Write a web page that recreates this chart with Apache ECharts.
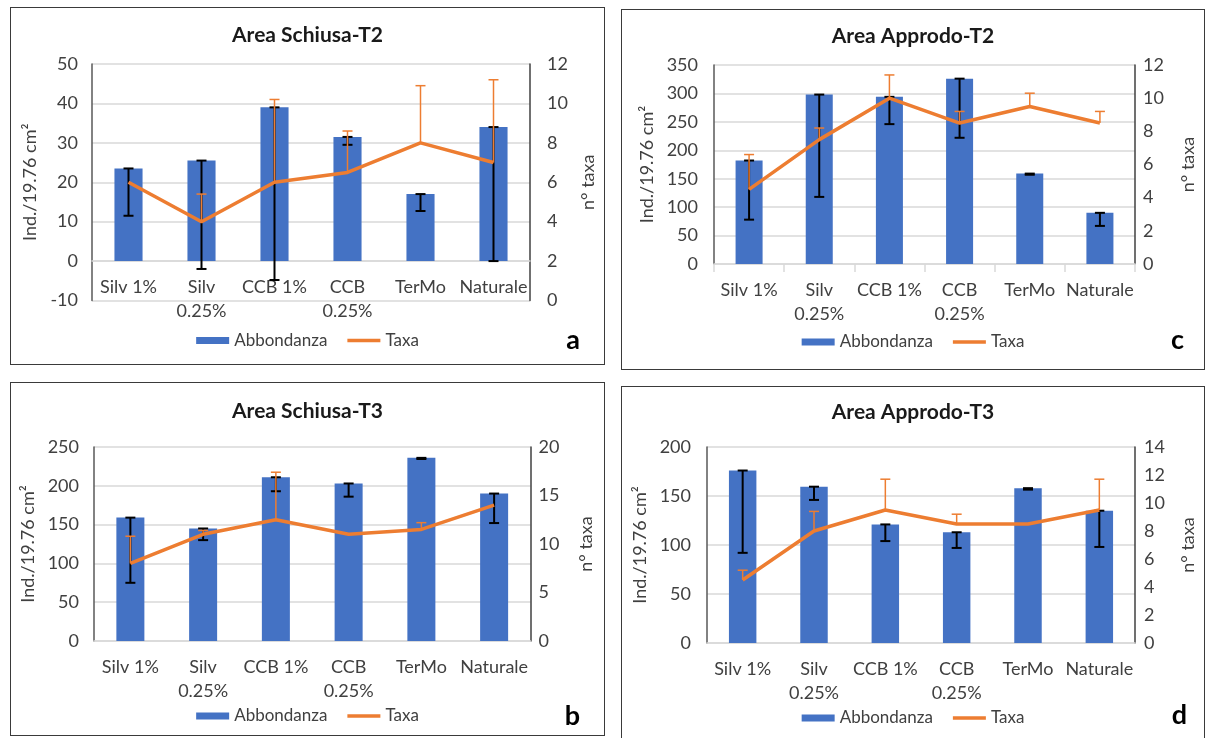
<!DOCTYPE html>
<html>
<head>
<meta charset="utf-8">
<script src="https://cdn.jsdelivr.net/npm/echarts@6/dist/echarts.min.js"></script>
<style>
  html, body { margin:0; padding:0; background:#fff; width:1213px; height:738px; overflow:hidden; }
  .chart { position:absolute; }
  .frame { position:absolute; border:1.5px solid #3a3a3a; box-sizing:border-box; pointer-events:none; }
</style>
</head>
<body>
<div class="chart" id="pa" style="left:10px;top:7px;width:595px;height:358px"></div>
<div class="chart" id="pc" style="left:621px;top:9px;width:584px;height:361px"></div>
<div class="chart" id="pb" style="left:10px;top:382px;width:595px;height:354px"></div>
<div class="chart" id="pd" style="left:621px;top:386px;width:584px;height:360px"></div>
<div class="frame" style="left:10px;top:7px;width:595px;height:358px"></div>
<div class="frame" style="left:621px;top:9px;width:584px;height:361px"></div>
<div class="frame" style="left:10px;top:382px;width:595px;height:354px"></div>
<div class="frame" style="left:621px;top:386px;width:584px;height:360px"></div>
<script>
// ---- data ----
const categories = ['Silv 1%', 'Silv\n0.25%', 'CCB 1%', 'CCB\n0.25%', 'TerMo', 'Naturale'];

// Panel a: Area Schiusa-T2
const abbA      = [23.5, 25.5, 39, 31.5, 17, 34];
const abbLowA   = [11.5, -2, -4.8, 29.5, 12.7, 0];
const taxaA     = [6, 4, 6, 6.5, 8, 7];
const taxaHighA = [6, 5.4, 10.2, 8.6, 10.9, 11.2];
const leftTicksA  = [-10, 50, 10];
const rightTicksA = [0, 12, 2];

// Panel c: Area Approdo-T2
const abbC      = [182, 298, 294, 326, 159, 90];
const abbLowC   = [78, 118, 246, 222, 157, 67];
const taxaC     = [4.5, 7.5, 10, 8.5, 9.5, 8.5];
const taxaHighC = [6.6, 8.2, 11.4, 9.2, 10.3, 9.2];
const leftTicksC  = [0, 350, 50];
const rightTicksC = [0, 12, 2];

// Panel b: Area Schiusa-T3
const abbB      = [159, 145, 211, 203, 236, 190];
const abbLowB   = [75, 130, 193, 186, 234.5, 152];
const taxaB     = [8, 11, 12.5, 11, 11.5, 14];
const taxaHighB = [10.8, 11.4, 17.4, 11, 12.2, 14];
const leftTicksB  = [0, 250, 50];
const rightTicksB = [0, 20, 5];

// Panel d: Area Approdo-T3
const abbD      = [176, 159.5, 121, 113, 158, 135];
const abbLowD   = [92, 146, 104, 97, 156.5, 98];
const taxaD     = [4.5, 8, 9.5, 8.5, 8.5, 9.5];
const taxaHighD = [5.2, 9.4, 11.7, 9.2, 8.5, 11.7];
const leftTicksD  = [0, 200, 50];
const rightTicksD = [0, 14, 2];

const FONT = 'Lato';
const BLUE = '#4472C4';
const ORANGE = '#ED7D31';

function errSeries(name, vals, ends, yIdx, color, width, capTop, capBottom, z) {
  const data = vals.map((v, i) => [i, v, ends[i]]);
  return {
    type: 'custom', name: name, xAxisIndex: 0, yAxisIndex: yIdx, z: z,
    encode: { x: 0, y: [1, 2] },
    data: data,
    renderItem: function (params, api) {
      const i = api.value(0);
      const v = api.value(1), e = api.value(2);
      if (Math.abs(v - e) < 1e-9) return null;
      const p1 = api.coord([i, v]);
      const p2 = api.coord([i, e]);
      const hw = 5;
      const st = { stroke: color, lineWidth: width };
      const children = [
        { type: 'line', shape: { x1: p1[0], y1: p1[1], x2: p2[0], y2: p2[1] }, style: st }
      ];
      if (capBottom) children.push({ type: 'line', shape: { x1: p2[0] - hw, y1: p2[1], x2: p2[0] + hw, y2: p2[1] }, style: st });
      if (capTop) children.push({ type: 'line', shape: { x1: p1[0] - hw, y1: p1[1], x2: p1[0] + hw, y2: p1[1] }, style: st });
      return { type: 'group', children: children };
    }
  };
}

function build(p) {
  return {
    animation: false,
    textStyle: { fontFamily: FONT },
    title: [
      { text: p.title, left: 'center', top: p.titleTop,
        textStyle: { fontSize: 21, fontWeight: 'bold', color: '#1a1a1a', fontFamily: FONT } },
      { text: p.letter, right: p.letterRight, top: p.letterTop,
        textStyle: { fontSize: 27, fontWeight: 'bold', color: '#000', fontFamily: FONT } }
    ],
    legend: {
      data: [
        { name: 'Abbondanza', icon: 'rect' },
        { name: 'Taxa', icon: 'path://M0,0H33V3.3H0Z' }
      ],
      left: 'center', top: p.legendTop,
      itemWidth: 33, itemHeight: 7, itemGap: 20,
      textStyle: { fontSize: 17, color: '#404040', fontFamily: FONT }
    },
    grid: p.grid,
    xAxis: {
      type: 'category', data: categories,
      axisLine: { onZero: true, onZeroAxisIndex: 0, lineStyle: { color: '#d9d9d9', width: 1.5 } },
      axisTick: { show: p.ticks, length: 8, lineStyle: { color: '#d9d9d9', width: 1.5 } },
      axisLabel: { interval: 0, margin: p.xMargin, fontSize: 18, lineHeight: 24, color: '#404040', fontFamily: FONT }
    },
    yAxis: [
      { type: 'value', min: p.left[0], max: p.left[1], interval: p.left[2],
        name: 'Ind./19.76 cm²', nameLocation: 'middle', nameGap: p.lNameGap, nameRotate: 90,
        nameTextStyle: { fontSize: 18, color: '#404040', fontFamily: FONT },
        axisLine: { show: true, onZero: false, lineStyle: { color: '#595959', width: 1.5 } },
        axisTick: { show: false },
        splitLine: { show: true, lineStyle: { color: '#d9d9d9', width: 1.5 } },
        axisLabel: { fontSize: 18, color: '#404040', margin: p.lMargin, fontFamily: FONT } },
      { type: 'value', position: 'right', min: p.right[0], max: p.right[1], interval: p.right[2],
        name: 'n° taxa', nameLocation: 'middle', nameGap: p.rNameGap, nameRotate: 90,
        nameTextStyle: { fontSize: 18, color: '#404040', fontFamily: FONT },
        axisLine: { show: true, onZero: false, lineStyle: { color: '#404040', width: 1.5 } },
        axisTick: { show: false },
        splitLine: { show: false },
        axisLabel: { fontSize: 18, color: '#404040', margin: p.rMargin, fontFamily: FONT } }
    ],
    series: [
      { type: 'bar', name: 'Abbondanza', data: p.abb, yAxisIndex: 0, barWidth: '38.5%',
        itemStyle: { color: BLUE }, z: 2 },
      errSeries('errAbb', p.abb, p.low, 0, '#000', 2, true, true, 3),
      { type: 'line', name: 'Taxa', data: p.taxa, yAxisIndex: 1, symbol: 'none',
        lineStyle: { color: ORANGE, width: 3.5 }, itemStyle: { color: ORANGE }, z: 4 },
      errSeries('errTaxa', p.taxa, p.high, 1, ORANGE, 1.5, false, true, 5)
    ]
  };
}

const panels = [
  { id: 'pa', title: 'Area Schiusa-T2', letter: 'a', abb: abbA, low: abbLowA, taxa: taxaA, high: taxaHighA,
    left: leftTicksA, right: rightTicksA, ticks: false, xMargin: -25.5,
    grid: { left: 82, right: 75, top: 57, bottom: 64.5 },
    titleTop: 13, letterRight: 20, letterTop: 315, legendTop: 320,
    lNameGap: 50, rNameGap: 45, lMargin: 14, rMargin: 17 },
  { id: 'pc', title: 'Area Approdo-T2', letter: 'c', abb: abbC, low: abbLowC, taxa: taxaC, high: taxaHighC,
    left: leftTicksC, right: rightTicksC, ticks: true, xMargin: 14,
    grid: { left: 93, right: 70, top: 56, bottom: 106 },
    titleTop: 12, letterRight: 16, letterTop: 313, legendTop: 319.5,
    lNameGap: 56, rNameGap: 44, lMargin: 16, rMargin: 8 },
  { id: 'pb', title: 'Area Schiusa-T3', letter: 'b', abb: abbB, low: abbLowB, taxa: taxaB, high: taxaHighB,
    left: leftTicksB, right: rightTicksB, ticks: false, xMargin: 14,
    grid: { left: 84, right: 74.5, top: 65, bottom: 95 },
    titleTop: 14, letterRight: 20, letterTop: 316, legendTop: 320.5,
    lNameGap: 53, rNameGap: 47, lMargin: 15, rMargin: 8 },
  { id: 'pd', title: 'Area Approdo-T3', letter: 'd', abb: abbD, low: abbLowD, taxa: taxaD, high: taxaHighD,
    left: leftTicksD, right: rightTicksD, ticks: false, xMargin: 14,
    grid: { left: 86, right: 68, top: 61, bottom: 103 },
    titleTop: 10.5, letterRight: 13, letterTop: 311, legendTop: 318.5,
    lNameGap: 52, rNameGap: 44, lMargin: 16, rMargin: 9 }
];

panels.forEach(function (p) {
  const chart = echarts.init(document.getElementById(p.id), null, { renderer: 'canvas' });
  chart.setOption(build(p));
});
</script>
</body>
</html>
